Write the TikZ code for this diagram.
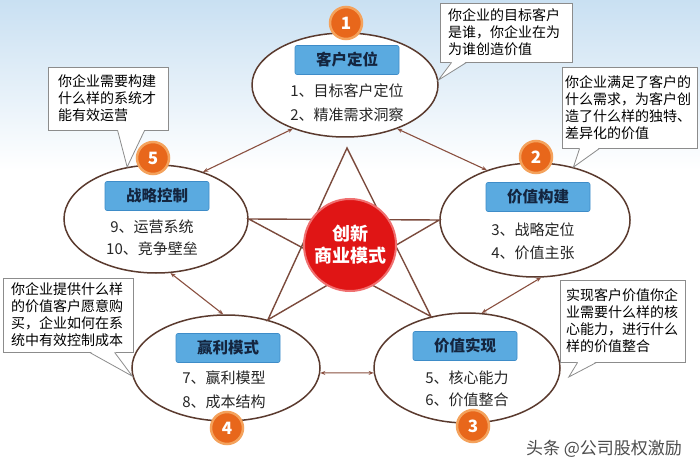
\documentclass[tikz,border=0pt]{standalone}
\usepackage{fontspec}
\newfontfamily\cjk{Noto Sans CJK SC}
\usetikzlibrary{shapes.geometric,arrows.meta,calc}
\definecolor{sky}{HTML}{C9E0F2}
\definecolor{edgec}{HTML}{5A3A2E}
\definecolor{starc}{HTML}{7B4A3C}
\definecolor{arrowc}{HTML}{8A5040}
\definecolor{tagblue}{HTML}{5AAAE0}
\definecolor{tagedge}{HTML}{3E8CC8}
\definecolor{tagtext}{HTML}{14253F}
\definecolor{badgec}{HTML}{E8671B}
\definecolor{badgehalo}{HTML}{F4A25C}
\definecolor{redc}{HTML}{E01515}
\definecolor{redhalo}{HTML}{F07070}
\definecolor{notec}{HTML}{8C8C8C}
\begin{document}
\begin{tikzpicture}[x=1pt,y=-1pt,
 bubble/.style={ellipse, draw=edgec, line width=1.5pt, fill=white, inner sep=0pt},
 tag/.style={rounded corners=2pt, fill=tagblue, draw=tagedge, line width=0.6pt, minimum width=104pt, minimum height=29pt, font=\cjk\bfseries\fontsize{15.5}{18}\selectfont, text=tagtext, inner sep=0pt},
 item/.style={font=\cjk\fontsize{15}{18}\selectfont, text=black!85, inner sep=0pt},
 badge/.style={circle, fill=badgec, draw=badgehalo, line width=2.5pt, minimum size=32pt, inner sep=0pt, font=\cjk\bfseries\fontsize{17}{17}\selectfont, text=white},
 note/.style={draw=notec, line width=0.8pt, fill=white, align=left, font=\cjk\fontsize{14}{17}\selectfont, inner ysep=4pt},
 link/.style={draw=arrowc, line width=1.1pt, {Stealth[length=5pt,width=4pt]}-{Stealth[length=5pt,width=4pt]}},
 starline/.style={draw=starc, line width=1.4pt, line join=miter},
 pointer/.style={draw=notec, line width=0.8pt}
]
\useasboundingbox (0,0) rectangle (700,470);
\fill[white] (0,0) rectangle (700,470);
\shade[top color=sky, bottom color=white] (0,0) rectangle (700,170);

% ellipses
\node[bubble, minimum width=186pt, minimum height=104pt] (e1) at (345,85) {};
\node[bubble, minimum width=190pt, minimum height=114pt] (e2) at (535,220) {};
\node[bubble, minimum width=184pt, minimum height=108pt] (e5) at (156,219) {};
\node[bubble, minimum width=188pt, minimum height=106pt] (e4) at (226,368) {};
\node[bubble, minimum width=186pt, minimum height=110pt] (e3) at (467,368) {};

% star
\coordinate (sTop) at (347,148);
\coordinate (sBL) at (e4.49.5);
\coordinate (sBR) at (e3.125);
\coordinate (sL) at (e5.east);
\coordinate (sR) at (e2.west);
\draw[starline] (sTop) -- (sBL) -- (sR) -- (sL) -- (sBR) -- cycle;

% centre
\node[circle, fill=redc, draw=redhalo, line width=2pt, minimum size=92pt, inner sep=0pt,
      font=\cjk\bfseries\fontsize{18}{22}\selectfont, text=white, align=center] (core) at (350,245) {创新\\商业模式};

% arrows
\draw[link] (e1.220) -- (e5.45);
\draw[link] (e1.320) -- (e2.134);
\draw[link] (e5.285) -- (e4.93);
\draw[link] (e2.276) -- (e3.75);
\draw[link] (e4.357) -- (e3.183);

% tags
\node[tag] (t1) at (347,60) {客户定位};
\node[tag] (t2) at (538,197) {价值构建};
\node[tag] (t5) at (157,196) {战略控制};
\node[tag] (t4) at (228,348) {赢利模式};
\node[tag] (t3) at (465,346) {价值实现};

% items
\node[item] (i11) at (347,91) {1、目标客户定位};
\node[item] (i12) at (347,115) {2、精准需求洞察};
\node[item] (i21) at (533,230) {3、战略定位};
\node[item] (i22) at (533,253) {4、价值主张};
\node[item] (i51) at (152,227) {9、运营系统};
\node[item] (i52) at (152,249) {10、竞争壁垒};
\node[item] (i41) at (224,378) {7、赢利模型};
\node[item] (i42) at (224,402) {8、成本结构};
\node[item] (i31) at (467,378) {5、核心能力};
\node[item] (i32) at (467,400) {6、价值整合};

% badges
\node[badge] (b1) at (346,23) {1};
\node[badge] (b2) at (536,157) {2};
\node[badge] (b5) at (153,158) {5};
\node[badge] (b4) at (227,428) {4};
\node[badge] (b3) at (473,426) {3};

% callouts
\node[note, text width=116pt, inner xsep=8pt, minimum height=59pt] (n1) at (506,32.5) {你企业的目标客户\\是谁，你企业在为\\为谁创造价值};
\node[note, text width=129pt, inner xsep=3pt, minimum height=81pt] (n2) at (629.5,107.5) {你企业满足了客户的\\什么需求，为客户创\\造了什么样的独特、\\差异化的价值};
\node[note, text width=100pt, inner xsep=10pt, minimum height=63pt] (n5) at (108,98.5) {你企业需要构建\\什么样的系统才\\能有效运营};
\node[note, text width=114pt, inner xsep=8pt, minimum height=74pt] (n4) at (68,315) {你企业提供什么样\\的价值客户愿意购\\买，企业如何在系\\统中有效控制成本};
\node[note, text width=113pt, inner xsep=6pt, minimum height=82pt] (n3) at (622.5,321) {实现客户价值你企\\业需要什么样的核\\心能力，进行什么\\样的价值整合};

% pointers
\coordinate (p3) at ($(e3.east)+(8,9)$);
\foreach \n/\a/\b/\tip in {n1/12/27/e1.3, n2/18/38/e2.54.4, n5/70/97/e5.119.9, n4/87/112/e4.185, n3/18/37/p3}{
  \fill[white] ($(\n.south west)+(\a,-1)$) -- (\tip) -- ($(\n.south west)+(\b,-1)$) -- cycle;
  \draw[pointer] ($(\n.south west)+(\a,0)$) -- (\tip) -- ($(\n.south west)+(\b,0)$);
}

% watermark
\node[font=\cjk\fontsize{17}{17}\selectfont, text=black!70, inner sep=0pt] (wm) at (604,449) {头条 @公司股权激励};
\end{tikzpicture}
\end{document}
